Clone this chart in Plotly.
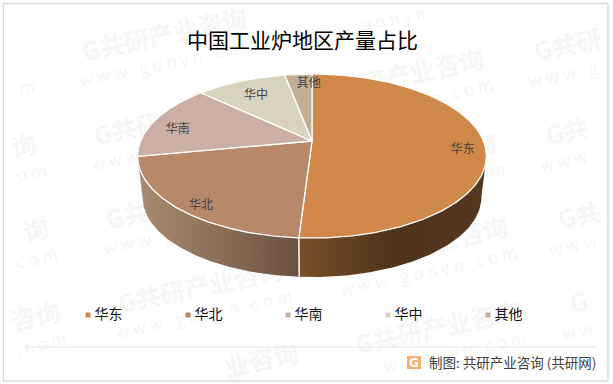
import numpy as np
import plotly.graph_objects as go

# ---- data ----
categories = ["华东", "华北", "华南", "华中", "其他"]
values = [51, 21, 15, 10, 3]
title_text = "中国工业炉地区产量占比"
source_text = "制图: 共研产业咨询 (共研网)"

# ---- style ----
top_colors = ["#D0894B", "#B8886B", "#CBAFA4", "#D8D3BF", "#C3AF96"]
wall_stops = {
    0: [[0, "#7A4F29"], [0.5, "#50331B"], [1, "#55361F"]],
    1: [[0, "#A88B70"], [1, "#6C5140"]],
    2: [[0, "#B9B2AD"], [1, "#A8A29D"]],
}
label_shift = [(1, 7), (1, 6), (3, 7), (7, 8), (9, 2)]
CX, CY, A, B, P = 312.0, 141.0, 171.5, 79.3, 0.183
LOWER_SCALE, LOWER_DROP = 0.971, 41.8
VIS_RIGHT, VIS_LEFT = 100.5, 262.0


def project(t_deg, r=1.0, scale=1.0, drop=0.0):
    t = np.radians(t_deg)
    X, Y = r * np.sin(t), r * np.cos(t)
    w = 1 / (1 + P * Y)
    return CX + scale * A * X * w, CY + drop - scale * B * Y * w


edges = np.concatenate([[0], np.cumsum(values)]) * 360 / sum(values)
fig = go.Figure()

# side wall
for i in range(len(values)):
    a0, a1 = max(edges[i], VIS_RIGHT), min(edges[i + 1], VIS_LEFT)
    if a1 <= a0:
        continue
    ts = np.linspace(a0, a1, 120)
    x1, y1 = project(ts)
    x2, y2 = project(ts[::-1], scale=LOWER_SCALE, drop=LOWER_DROP)
    fig.add_trace(go.Scatter(
        x=np.r_[x1, x2], y=np.r_[y1, y2], mode="lines", fill="toself",
        fillgradient=dict(type="horizontal", colorscale=wall_stops[i]),
        line=dict(width=0), hoverinfo="skip", showlegend=False))

# wall divider between the two front slices
dx = [project(edges[1])[0], project(edges[1], scale=LOWER_SCALE, drop=LOWER_DROP)[0]]
dy = [project(edges[1])[1], project(edges[1], scale=LOWER_SCALE, drop=LOWER_DROP)[1]]
fig.add_trace(go.Scatter(x=dx, y=dy, mode="lines", line=dict(color="white", width=1.5),
                         hoverinfo="skip", showlegend=False))

# top face
for i, c in enumerate(categories):
    ts = np.linspace(edges[i], edges[i + 1], 200)
    x, y = project(ts)
    fig.add_trace(go.Scatter(
        x=np.r_[CX, x, CX], y=np.r_[CY, y, CY], mode="lines", fill="toself",
        fillcolor=top_colors[i], line=dict(color="white", width=1.3),
        name=c, hoverinfo="name", showlegend=False))

# data labels
for i, c in enumerate(categories):
    lx, ly = project((edges[i] + edges[i + 1]) / 2, r=0.87)
    fig.add_trace(go.Scatter(
        x=[lx + label_shift[i][0]], y=[ly + label_shift[i][1]], mode="text", text=[c],
        textfont=dict(family="Noto Sans CJK SC", size=12, color="#404040"),
        hoverinfo="skip", showlegend=False))

# legend row
for i, c in enumerate(categories):
    fig.add_trace(go.Scatter(
        x=[88 + 100 * i], y=[315], mode="markers",
        marker=dict(symbol="square", size=5, color=top_colors[i]),
        hoverinfo="skip", showlegend=False))
    fig.add_trace(go.Scatter(
        x=[94.5 + 100 * i], y=[315], mode="text", text=[c], textposition="middle right",
        textfont=dict(family="Noto Sans CJK SC", size=14, color="#111111"),
        hoverinfo="skip", showlegend=False))

# watermark lattice: only the characters that fall inside the frame are written
ANG = np.radians(12)
UX, UY = np.cos(ANG), -np.sin(ANG)


def clipped_label(tokens, step, cx, cy, size, bold):
    n = len(tokens)
    keep = []
    for k, tok in enumerate(tokens):
        off = (k - (n - 1) / 2) * step
        px, py = cx + off * UX, cy + off * UY
        if 16 < px < 596 and 14 < py < 372:
            keep.append((k, tok, px, py))
    if not keep:
        return None
    txt = "".join(t for _, t, _, _ in keep).strip()
    if not txt:
        return None
    mx = sum(p[2] for p in keep) / len(keep)
    my = sum(p[3] for p in keep) / len(keep)
    return dict(type="rect", layer="below", x0=mx - 1, x1=mx + 1, y0=my - 1, y1=my + 1,
                line=dict(width=0), fillcolor="rgba(0,0,0,0)",
                label=dict(text=f"<b>{txt}</b>" if bold else txt, textangle=-12,
                           textposition="middle center",
                           font=dict(family="Noto Sans CJK SC", size=size, color="#F6F6F6")))


shapes = []
column_starts = [(-61, 80), (165, 37), (390, -6), (617, 37)]
mark_tokens = list("G共研产业咨询")
url_tokens = [c + " " for c in "www.gonyn.com"]
for sx, sy in column_starts:
    for row in range(6):
        mx, my = sx + 12 * row, sy + 84 * row
        for tokens, step, ox, oy, size, bold in ((mark_tokens, 25, 0, 0, 25, True),
                                                 (url_tokens, 14.5, 3, 27, 17, False)):
            s = clipped_label(tokens, step, mx + ox, my + oy, size, bold)
            if s:
                shapes.append(s)

shapes.append(dict(type="rect", x0=3.5, x1=608, y0=3.5, y1=381,
                   line=dict(color="#D9D9D9", width=1.3), fillcolor="rgba(0,0,0,0)", layer="above"))
shapes.append(dict(type="line", x0=25, x1=597, y0=347, y1=347,
                   line=dict(color="#E6E6E6", width=1)))
shapes.append(dict(type="rect", x0=407, x1=421, y0=356, y1=369,
                   fillcolor="#F8AE72", line=dict(width=0)))

annotations = [
    dict(x=185, y=39, text=title_text, showarrow=False, xanchor="left", yanchor="middle",
         font=dict(family="Noto Sans CJK SC", size=21, color="#000000")),
    dict(x=598, y=362, text=source_text, showarrow=False, xanchor="right", yanchor="middle",
         font=dict(family="Noto Sans CJK SC", size=13.5, color="#404040")),
    dict(x=414, y=362.5, text="<b>G</b>", showarrow=False, xanchor="center", yanchor="middle",
         font=dict(family="DejaVu Sans", size=12, color="#FFFFFF")),
]

fig.update_layout(
    width=613, height=384, margin=dict(l=0, r=0, t=0, b=0),
    paper_bgcolor="white", plot_bgcolor="white", showlegend=False,
    xaxis=dict(range=[0, 613], visible=False, fixedrange=True),
    yaxis=dict(range=[384, 0], visible=False, fixedrange=True),
    shapes=shapes, annotations=annotations,
)
fig.write_html("out.html", config=dict(displayModeBar=False),
               post_script="document.body.style.margin='0';window.dispatchEvent(new Event('resize'));")
